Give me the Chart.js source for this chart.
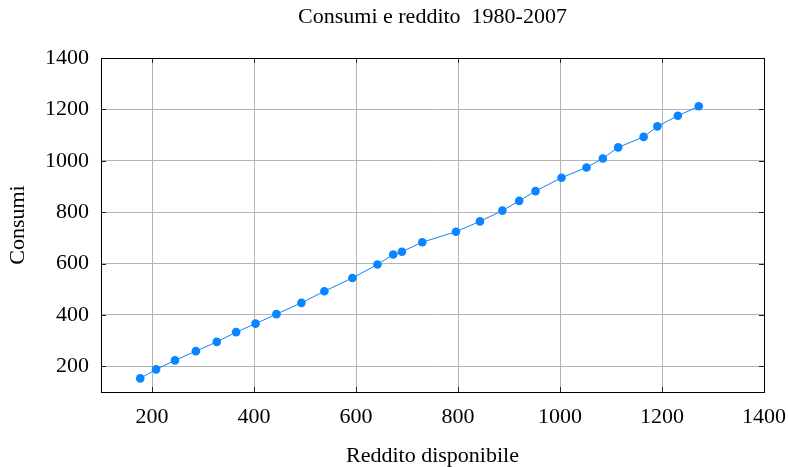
<!DOCTYPE html>
<html>
<head>
<meta charset="utf-8">
<script src="https://cdn.jsdelivr.net/npm/chart.js@4/dist/chart.umd.min.js"></script>
<style>
  html, body { margin: 0; padding: 0; background: #fff; }
  #wrap { width: 788px; height: 467px; }
</style>
</head>
<body>
<div id="wrap"><canvas id="chart"></canvas></div>
<script>
// ── Data ─────────────────────────────────────────────────────────────────────
const reddito = [177, 208, 245, 286, 327, 365, 403, 444, 493, 538, 593, 642, 673, 690,
                 730, 796, 843, 887, 920, 952, 1003, 1052, 1084, 1114, 1164, 1191, 1231, 1272];
const consumi = [153, 188, 223, 259, 295, 333, 366, 403, 447, 492, 544, 596, 635, 646,
                 683, 724, 764, 806, 844, 882, 934, 974, 1009, 1052, 1093, 1134, 1175, 1212];
const xTicks = [200, 400, 600, 800, 1000, 1200, 1400];
const yTicks = [200, 400, 600, 800, 1000, 1200, 1400];

const FONT = "'Liberation Serif', 'Times New Roman', serif";
const BLUE = '#0a84ff';

// ── Frame + inward tick marks ────────────────────────────────────────────────
const frame = {
  id: 'frame',
  beforeDatasetsDraw(chart) {
    const {ctx, chartArea: a, scales: {x, y}} = chart;
    const len = 5;
    ctx.save();
    ctx.strokeStyle = '#222';
    ctx.lineWidth = 1;
    ctx.beginPath();
    xTicks.forEach(v => {
      const px = Math.round(x.getPixelForValue(v)) + 0.5;
      ctx.moveTo(px, a.bottom); ctx.lineTo(px, a.bottom - len);
      ctx.moveTo(px, a.top);    ctx.lineTo(px, a.top + len);
    });
    yTicks.forEach(v => {
      const py = Math.round(y.getPixelForValue(v)) + 0.5;
      ctx.moveTo(a.left, py);  ctx.lineTo(a.left + len, py);
      ctx.moveTo(a.right, py); ctx.lineTo(a.right - len, py);
    });
    ctx.stroke();
    ctx.strokeStyle = '#000';
    ctx.strokeRect(Math.round(a.left) + 0.5, Math.round(a.top) + 0.5,
                   Math.round(a.right - a.left), Math.round(a.bottom - a.top));
    ctx.restore();
  }
};

const points = reddito.map((r, i) => ({x: r, y: consumi[i]}));
const plain = v => String(v);

new Chart(document.getElementById('chart'), {
  type: 'scatter',
  data: {
    datasets: [{
      data: points,
      showLine: true,
      borderColor: BLUE,
      backgroundColor: BLUE,
      borderWidth: 1,
      pointRadius: 4.3,
      pointBorderWidth: 0,
      pointBackgroundColor: BLUE,
    }]
  },
  options: {
    responsive: true,
    maintainAspectRatio: false,
    animation: false,
    layout: { padding: { left: 0, right: 24, top: 0, bottom: 0 } },
    plugins: {
      legend: { display: false },
      tooltip: { enabled: false },
      title: {
        display: true,
        fullSize: false,   // centre over the plot area, not the whole canvas
        text: 'Consumi e reddito  1980-2007',
        color: '#000',
        font: { family: FONT, size: 22, weight: 'normal', lineHeight: 1.2 },
        padding: { top: 4, bottom: 27.6 },
      },
    },
    scales: {
      x: {
        type: 'linear',
        min: 100, max: 1400,
        afterBuildTicks: s => { s.ticks = xTicks.map(v => ({value: v})); },
        afterFit: s => { s.height = 75; s.paddingLeft = 0; s.paddingRight = 0; },
        ticks: { color: '#000', padding: 12, maxRotation: 0, callback: plain,
                 font: { family: FONT, size: 22, lineHeight: 1.2 } },
        grid: { color: '#b4b4b4', drawTicks: false },
        border: { display: false },
        title: { display: true, text: 'Reddito disponibile', color: '#000',
                 font: { family: FONT, size: 22, lineHeight: 1.0 },
                 padding: { top: 0, bottom: 0 } },
      },
      y: {
        type: 'linear',
        min: 100, max: 1400,
        afterBuildTicks: s => { s.ticks = yTicks.map(v => ({value: v})); },
        afterFit: s => { s.width = 101; s.paddingTop = 0; s.paddingBottom = 0; },
        ticks: { color: '#000', padding: 12, callback: plain,
                 font: { family: FONT, size: 22, lineHeight: 1.2 } },
        grid: { color: '#b4b4b4', drawTicks: false },
        border: { display: false },
        title: { display: true, text: 'Consumi', color: '#000',
                 font: { family: FONT, size: 22, lineHeight: 1.2 },
                 padding: { top: 5, bottom: 0 } },
      },
    },
  },
  plugins: [frame],
});
</script>
</body>
</html>
